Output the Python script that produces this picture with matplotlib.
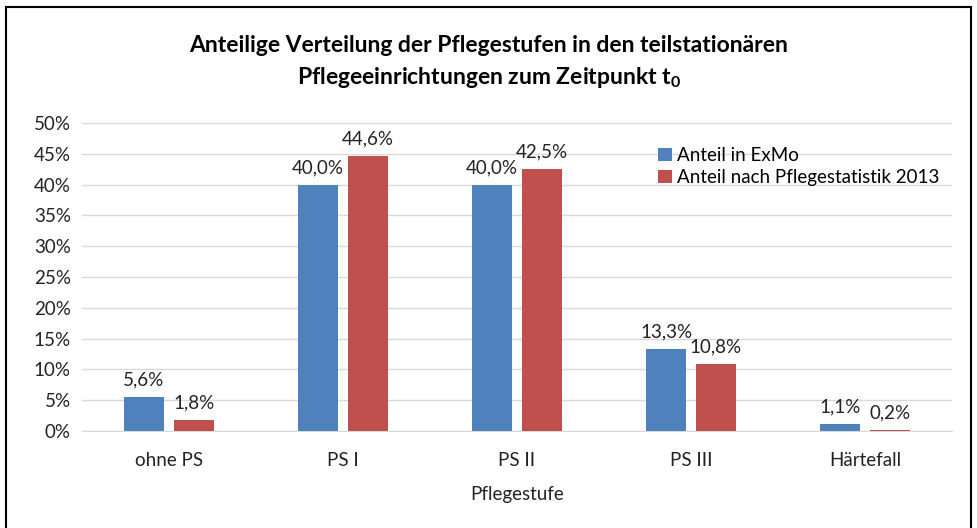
import numpy as np
import matplotlib.pyplot as plt
from matplotlib.patches import Rectangle

plt.rcParams['font.family'] = ['Lato', 'DejaVu Sans']
plt.rcParams['mathtext.fontset'] = 'custom'
plt.rcParams['mathtext.bf'] = 'Lato:bold'
plt.rcParams['mathtext.rm'] = 'Lato'

kategorien = ['ohne PS', 'PS I', 'PS II', 'PS III', 'Härtefall']
anteil_exmo = [5.6, 40.0, 40.0, 13.3, 1.1]
anteil_statistik = [1.8, 44.6, 42.5, 10.8, 0.2]
serien = ['Anteil in ExMo', 'Anteil nach Pflegestatistik 2013']
farben = ['#4F81BD', '#C0504D']

fs = 13.5
fig = plt.figure(figsize=(9.78, 5.28), dpi=100)
ax = fig.add_axes([0.0838, 0.1837, 0.8896, 0.5833])

x = np.arange(len(kategorien))
breite = 0.23
abstand = 0.057
for i, (werte, name) in enumerate(zip([anteil_exmo, anteil_statistik], serien)):
    pos = x + (i - 0.5) * (breite + abstand)
    bars = ax.bar(pos, np.array(werte) / 100, breite, color=farben[i], label=name, zorder=3)
    for b, w in zip(bars, werte):
        ax.text(b.get_x() + b.get_width() / 2, b.get_height() + 0.014,
                ('%.1f%%' % w).replace('.', ','), ha='center', va='bottom',
                fontsize=fs, color='#222222')

ax.set_xlim(-0.5, len(kategorien) - 0.5)
ax.set_ylim(0, 0.5)
ax.set_yticks(np.arange(0, 0.51, 0.05))
ax.set_yticklabels(['%d%%' % round(v * 100) for v in np.arange(0, 0.51, 0.05)])
ax.set_xticks(x)
ax.set_xticklabels(kategorien)
ax.tick_params(axis='both', length=0, labelsize=fs, colors='#222222')
ax.tick_params(axis='x', pad=15)
ax.tick_params(axis='y', pad=8)
ax.grid(axis='y', color='#d9d9d9', linewidth=1, zorder=0)
for s in ['top', 'right', 'left']:
    ax.spines[s].set_visible(False)
ax.spines['bottom'].set_color('#d9d9d9')
ax.set_xlabel('Pflegestufe', fontsize=fs, color='#222222', labelpad=12)

ax.legend(loc='upper left', bbox_to_anchor=(0.654, 0.945), frameon=False,
          fontsize=fs, handlelength=0.7, handleheight=0.7, handletextpad=0.3,
          labelspacing=0.25, borderaxespad=0)

fig.text(0.5, 0.913, 'Anteilige Verteilung der Pflegestufen in den teilstationären',
         ha='center', va='center', fontsize=16.5, fontweight='bold')
fig.text(0.5, 0.854, r'Pflegeeinrichtungen zum Zeitpunkt t$_\mathbf{0}$',
         ha='center', va='center', fontsize=16.5, fontweight='bold')

fig.patches.append(Rectangle((0.006, -0.05), 0.987, 1.0367, transform=fig.transFigure,
                             fill=False, edgecolor='black', linewidth=1.5))

fig.savefig('out.png', dpi=100)
